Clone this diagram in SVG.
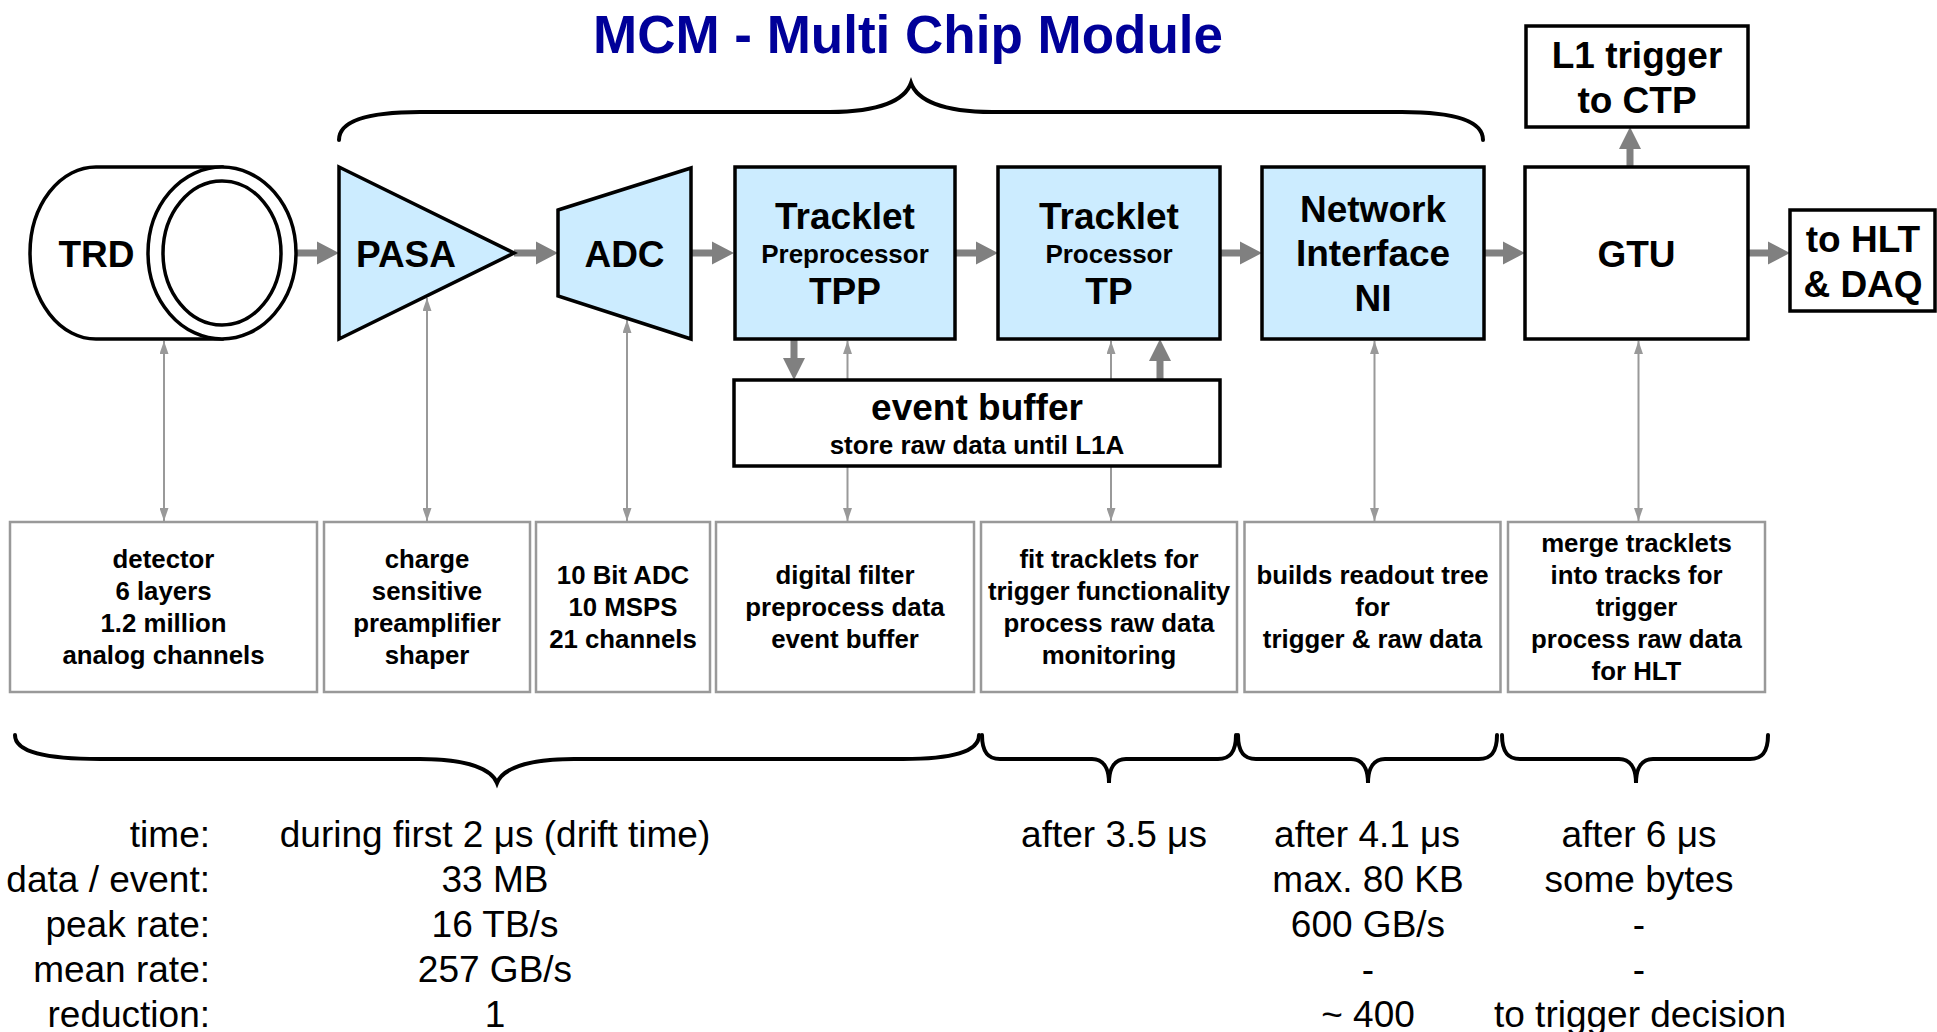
<svg xmlns="http://www.w3.org/2000/svg" width="1937" height="1032" viewBox="0 0 1937 1032">
<style>
.shape{stroke:#000;stroke-width:3.5;}
.blue{fill:#CCECFF;}
.white{fill:#fff;}
.detail{fill:#fff;stroke:#999;stroke-width:2.5;}
.big{font-family:"Liberation Sans",Arial,sans-serif;font-weight:bold;font-size:37px;fill:#000;text-anchor:middle;}
.mid{font-family:"Liberation Sans",Arial,sans-serif;font-weight:bold;font-size:26px;fill:#000;text-anchor:middle;}
.small{font-family:"Liberation Sans",Arial,sans-serif;font-weight:bold;font-size:25.8px;fill:#000;text-anchor:middle;}
.stat{font-family:"Liberation Sans",Arial,sans-serif;font-size:37px;fill:#000;text-anchor:middle;}
.lbl{font-family:"Liberation Sans",Arial,sans-serif;font-size:37px;fill:#000;text-anchor:end;}
.thick{fill:#808080;}
.thin{stroke:#999;stroke-width:2;fill:none;marker-start:url(#ah);marker-end:url(#ah);}
.brace{fill:none;stroke:#000;stroke-width:4;stroke-linecap:round;}
</style>
<defs>
<marker id="ah" viewBox="0 0 13 9" refX="13" refY="4.5" markerWidth="13" markerHeight="9" markerUnits="userSpaceOnUse" orient="auto-start-reverse"><path d="M0,0 L13,4.5 L0,9 z" fill="#999"/></marker>
</defs>
<rect width="1937" height="1032" fill="#fff"/>

<g id="title">
<text x="908" y="53" font-family="'Liberation Sans',Arial,sans-serif" font-weight="bold" font-size="53" fill="#000099" text-anchor="middle">MCM - Multi Chip Module</text>
</g>

<g id="braces">
<path class="brace" d="M339,140 C339,122 365,112 420,112 L830,112 C880,112 905,100 911,83 C917,100 942,112 992,112 L1402,112 C1457,112 1483,122 1483,140"/>
<path class="brace" d="M15,735 C15,752 45,759 100,759 L420,759 C470,759 492,770 497,783 C502,770 524,759 574,759 L903,759 C952,759 979,752 979,735"/>
<path class="brace" d="M982,735 C982,752 988,759 1000,759 L1092,759 C1103,759 1109,768 1109,783 C1109,768 1115,759 1126,759 L1218,759 C1230,759 1236,752 1236,735"/>
<path class="brace" d="M1238,735 C1238,752 1244,759 1256,759 L1351,759 C1362,759 1368,768 1368,783 C1368,768 1374,759 1385,759 L1479,759 C1491,759 1497,752 1497,735"/>
<path class="brace" d="M1502,735 C1502,752 1508,759 1520,759 L1619,759 C1630,759 1636,768 1636,783 C1636,768 1642,759 1653,759 L1750,759 C1762,759 1768,752 1768,735"/>
</g>

<g id="connectors">
<line class="thin" x1="164" y1="341" x2="164" y2="521"/>
<line class="thin" x1="427" y1="298" x2="427" y2="521"/>
<line class="thin" x1="627" y1="320" x2="627" y2="521"/>
<line class="thin" x1="847.5" y1="341" x2="847.5" y2="521"/>
<line class="thin" x1="1111" y1="341" x2="1111" y2="521"/>
<line class="thin" x1="1374.5" y1="341" x2="1374.5" y2="521"/>
<line class="thin" x1="1638.5" y1="341" x2="1638.5" y2="521"/>
<path class="thick" d="M296,249.5 H317 V241.5 L339,253 L317,264.5 V256.5 H296 Z"/>
<path class="thick" d="M514,249.5 H536 V241.5 L558,253 L536,264.5 V256.5 H514 Z"/>
<path class="thick" d="M691,249.5 H712 V241.5 L734,253 L712,264.5 V256.5 H691 Z"/>
<path class="thick" d="M955,249.5 H976 V241.5 L998,253 L976,264.5 V256.5 H955 Z"/>
<path class="thick" d="M1220,249.5 H1240 V241.5 L1262,253 L1240,264.5 V256.5 H1220 Z"/>
<path class="thick" d="M1484,249.5 H1503 V241.5 L1525,253 L1503,264.5 V256.5 H1484 Z"/>
<path class="thick" d="M1748,249.5 H1768 V241.5 L1790,253 L1768,264.5 V256.5 H1748 Z"/>
<path class="thick" d="M790.5,339 V358 H783 L794,380 L805,358 H797.5 V339 Z"/>
<path class="thick" d="M1156.5,380 V361 H1149 L1160,339 L1171,361 H1163.5 V380 Z"/>
<path class="thick" d="M1626.5,167 V149 H1619 L1630,127 L1641,149 H1633.5 V167 Z"/>
</g>

<g id="trd">
<path class="shape white" d="M222,167 L96,167 A66,86 0 0 0 96,339 L222,339 Z"/>
<ellipse class="shape white" cx="222" cy="253" rx="74" ry="86"/>
<ellipse class="shape white" cx="222" cy="253" rx="59" ry="72"/>
<text class="big" x="96.5" y="267">TRD</text>
</g>

<g id="pasa">
<polygon class="shape blue" points="339,167 514,253 339,339"/>
<text class="big" x="406" y="267">PASA</text>
</g>

<g id="adc">
<polygon class="shape blue" points="558,210 691,168 691,339 558,296"/>
<text class="big" x="624.5" y="267">ADC</text>
</g>

<g id="tpp">
<rect class="shape blue" x="735" y="167" width="220" height="172"/>
<text class="big" x="845" y="229">Tracklet</text>
<text class="mid" x="845" y="263">Preprocessor</text>
<text class="big" x="845" y="304">TPP</text>
</g>

<g id="tp">
<rect class="shape blue" x="998" y="167" width="222" height="172"/>
<text class="big" x="1109" y="229">Tracklet</text>
<text class="mid" x="1109" y="263">Processor</text>
<text class="big" x="1109" y="304">TP</text>
</g>

<g id="ni">
<rect class="shape blue" x="1262" y="167" width="222" height="172"/>
<text class="big" x="1373" y="222">Network</text>
<text class="big" x="1373" y="266">Interface</text>
<text class="big" x="1373" y="311">NI</text>
</g>

<g id="gtu">
<rect class="shape white" x="1525" y="167" width="223" height="172"/>
<text class="big" x="1636.5" y="267">GTU</text>
</g>

<g id="l1trigger">
<rect class="shape white" x="1526" y="26" width="222" height="101"/>
<text class="big" x="1637" y="68">L1 trigger</text>
<text class="big" x="1637" y="113">to CTP</text>
</g>

<g id="hltdaq">
<rect class="shape white" x="1790" y="210" width="145" height="101"/>
<text class="big" x="1863" y="252">to HLT</text>
<text class="big" x="1863" y="297">&amp; DAQ</text>
</g>

<g id="eventbuffer">
<rect class="shape white" x="734" y="380" width="486" height="86"/>
<text class="big" x="977" y="420">event buffer</text>
<text class="mid" x="977" y="454">store raw data until L1A</text>
</g>

<g id="d-detector">
<rect class="detail" x="10" y="522" width="307" height="170"/>
<text class="small" x="163.5" y="568">detector</text>
<text class="small" x="163.5" y="600">6 layers</text>
<text class="small" x="163.5" y="632">1.2 million</text>
<text class="small" x="163.5" y="663.5">analog channels</text>
</g>

<g id="d-charge">
<rect class="detail" x="324" y="522" width="206" height="170"/>
<text class="small" x="427" y="568">charge</text>
<text class="small" x="427" y="600">sensitive</text>
<text class="small" x="427" y="632">preamplifier</text>
<text class="small" x="427" y="663.5">shaper</text>
</g>

<g id="d-adc">
<rect class="detail" x="536" y="522" width="174" height="170"/>
<text class="small" x="623" y="584">10 Bit ADC</text>
<text class="small" x="623" y="616">10 MSPS</text>
<text class="small" x="623" y="648">21 channels</text>
</g>

<g id="d-filter">
<rect class="detail" x="716" y="522" width="258" height="170"/>
<text class="small" x="845" y="584">digital filter</text>
<text class="small" x="845" y="616">preprocess data</text>
<text class="small" x="845" y="648">event buffer</text>
</g>

<g id="d-fit">
<rect class="detail" x="981" y="522" width="256" height="170"/>
<text class="small" x="1109" y="568">fit tracklets for</text>
<text class="small" x="1109" y="600">trigger functionality</text>
<text class="small" x="1109" y="632">process raw data</text>
<text class="small" x="1109" y="663.5">monitoring</text>
</g>

<g id="d-readout">
<rect class="detail" x="1244.5" y="522" width="256" height="170"/>
<text class="small" x="1372.5" y="584">builds readout tree</text>
<text class="small" x="1372.5" y="616">for</text>
<text class="small" x="1372.5" y="648">trigger &amp; raw data</text>
</g>

<g id="d-merge">
<rect class="detail" x="1508" y="522" width="257" height="170"/>
<text class="small" x="1636.5" y="552">merge tracklets</text>
<text class="small" x="1636.5" y="584">into tracks for</text>
<text class="small" x="1636.5" y="616">trigger</text>
<text class="small" x="1636.5" y="648">process raw data</text>
<text class="small" x="1636.5" y="680">for HLT</text>
</g>

<g id="stats">
<text class="lbl" x="210" y="847">time:</text>
<text class="lbl" x="210" y="892">data / event:</text>
<text class="lbl" x="210" y="937">peak rate:</text>
<text class="lbl" x="210" y="982">mean rate:</text>
<text class="lbl" x="210" y="1027">reduction:</text>
<text class="stat" x="495" y="847">during first 2 μs (drift time)</text>
<text class="stat" x="495" y="892">33 MB</text>
<text class="stat" x="495" y="937">16 TB/s</text>
<text class="stat" x="495" y="982">257 GB/s</text>
<text class="stat" x="495" y="1027">1</text>
<text class="stat" x="1114" y="847">after 3.5 μs</text>
<text class="stat" x="1367" y="847">after 4.1 μs</text>
<text class="stat" x="1368" y="892">max. 80 KB</text>
<text class="stat" x="1368" y="937">600 GB/s</text>
<text class="stat" x="1368" y="982">-</text>
<text class="stat" x="1368" y="1027">~ 400</text>
<text class="stat" x="1639" y="847">after 6 μs</text>
<text class="stat" x="1639" y="892">some bytes</text>
<text class="stat" x="1639" y="937">-</text>
<text class="stat" x="1639" y="982">-</text>
<text class="stat" x="1640" y="1027">to trigger decision</text>
</g>
</svg>
